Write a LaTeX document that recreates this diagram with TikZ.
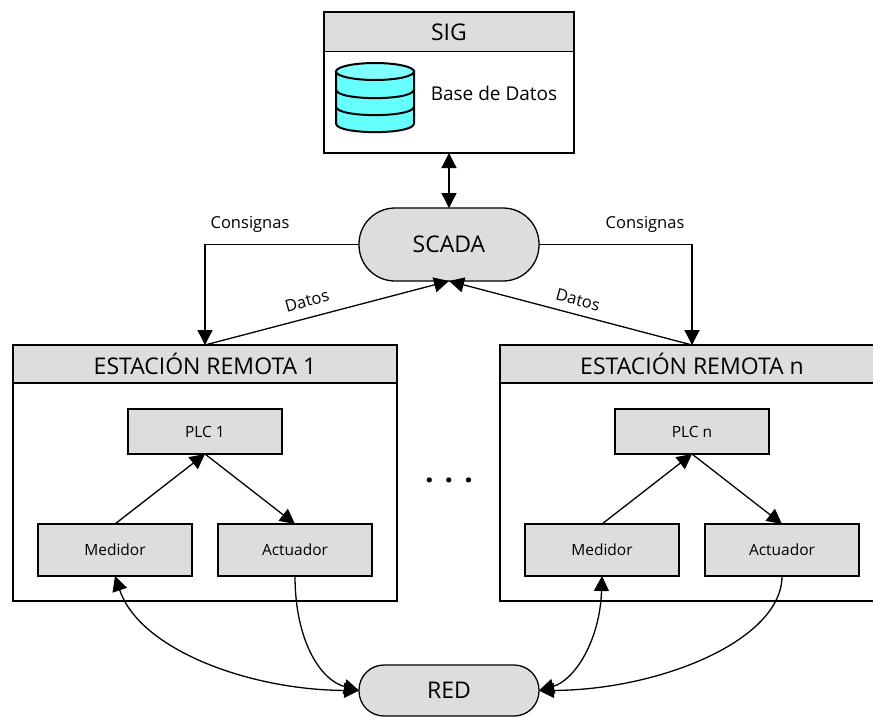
\documentclass[tikz,border=0pt]{standalone}
\usepackage{fontspec}
\setmainfont{Open Sans}
\usetikzlibrary{arrows.meta}
\definecolor{boxgray}{HTML}{DDDDDD}
\definecolor{dbbody}{HTML}{66FFFF}
\definecolor{dbtop}{HTML}{80FFFF}
\tikzset{
  ln/.style={line width=1.3pt,draw=black},
  boxnode/.style={ln,rectangle,inner sep=0pt,outer sep=0pt,anchor=center},
  panel/.style={boxnode,fill=white},
  header/.style={boxnode,fill=boxgray,font=\fontsize{23}{26}\selectfont},
  unit/.style={boxnode,fill=boxgray,font=\fontsize{15.5}{18}\selectfont},
  pill/.style={boxnode,fill=boxgray,font=\fontsize{23}{26}\selectfont},
  note/.style={inner sep=0pt,font=\fontsize{16.5}{20}\selectfont},
  tipend/.style={-{Triangle[length=15pt,width=15pt]},ln},
  tipboth/.style={{Triangle[length=15pt,width=15pt]}-{Triangle[length=15pt,width=15pt]},ln},
  plainline/.style={ln}
}
\begin{document}
\begin{tikzpicture}[x=1pt,y=-1pt]
\clip (0,0) rectangle (873,716);
\fill[white] (0,0) rectangle (873,716);

% SIG
\node[panel,minimum width=250pt,minimum height=141pt] (sig) at (449,82.5) {};
\node[header,minimum width=250pt,minimum height=39pt] (sigh) at (449,32) {SIG};
\path[ln,line width=2pt,fill=dbbody] (336,71.5) -- (336,123.5) .. controls (336,135) and (414,135) .. (414,123.5) -- (414,71.5) -- cycle;
\draw[line width=2pt,fill=dbtop] (375,71.5) ellipse [x radius=39pt,y radius=8.5pt];
\draw[line width=2pt] (336,89.5) .. controls (336,101) and (414,101) .. (414,89.5);
\draw[line width=2pt] (336,106.5) .. controls (336,118) and (414,118) .. (414,106.5);
\node[note,font=\fontsize{19}{22}\selectfont] (dbtext) at (494,93) {Base de Datos};

% SCADA
\node[pill,rounded corners=36pt,minimum width=180pt,minimum height=73pt] (scada) at (449,244.5) {SCADA};

% Stations
\node[panel,minimum width=384pt,minimum height=256pt] (st1) at (205,473) {};
\node[header,minimum width=384pt,minimum height=38pt] (st1h) at (205,364) {ESTACIÓN REMOTA 1};
\node[panel,minimum width=384pt,minimum height=256pt] (stn) at (692,473) {};
\node[header,minimum width=384pt,minimum height=38pt] (stnh) at (692,364) {ESTACIÓN REMOTA n};

% Units
\node[unit,minimum width=154pt,minimum height=45pt] (plc1) at (205,431.5) {PLC 1};
\node[unit,minimum width=154pt,minimum height=52pt] (med1) at (115,550) {Medidor};
\node[unit,minimum width=154pt,minimum height=52pt] (act1) at (295,550) {Actuador};
\node[unit,minimum width=154pt,minimum height=45pt] (plcn) at (692,431.5) {PLC n};
\node[unit,minimum width=154pt,minimum height=52pt] (medn) at (602,550) {Medidor};
\node[unit,minimum width=154pt,minimum height=52pt] (actn) at (782,550) {Actuador};

% RED
\node[pill,rounded corners=25pt,minimum width=180pt,minimum height=51pt] (red) at (449,690.5) {RED};

% Connectors
\draw[tipboth] (sig.south) -- (scada.north);
\draw[tipend] (scada.west) -| (st1.north);
\draw[tipend] (scada.east) -| (stn.north);
\draw[tipend] (st1.north) -- (scada.south);
\draw[tipend] (stn.north) -- (scada.south);

\draw[tipend] (med1.north) -- (plc1.south);
\draw[tipend] (plc1.south) -- (act1.north);
\draw[tipend] (medn.north) -- (plcn.south);
\draw[tipend] (plcn.south) -- (actn.north);

\draw[tipboth] (med1.south) .. controls (140,650) and (250,690) .. (red.west);
\draw[tipend] (act1.south) .. controls (295,640) and (320,680) .. (red.west);
\draw[tipboth] (medn.south) .. controls (600,640) and (575,680) .. (red.east);
\draw[tipend] (actn.south) .. controls (782,640) and (660,690) .. (red.east);

% Labels
\node[note] (c1) at (250,224) {Consignas};
\node[note] (c2) at (645,224) {Consignas};
\node[note,rotate=15] (d1) at (307,301) {Datos};
\node[note,rotate=-15] (d2) at (578,300) {Datos};
\node[inner sep=0pt,font=\fontsize{30}{30}\selectfont\bfseries] (dots) at (449,480) {.\hspace{11pt}.\hspace{11pt}.};
\end{tikzpicture}
\end{document}
